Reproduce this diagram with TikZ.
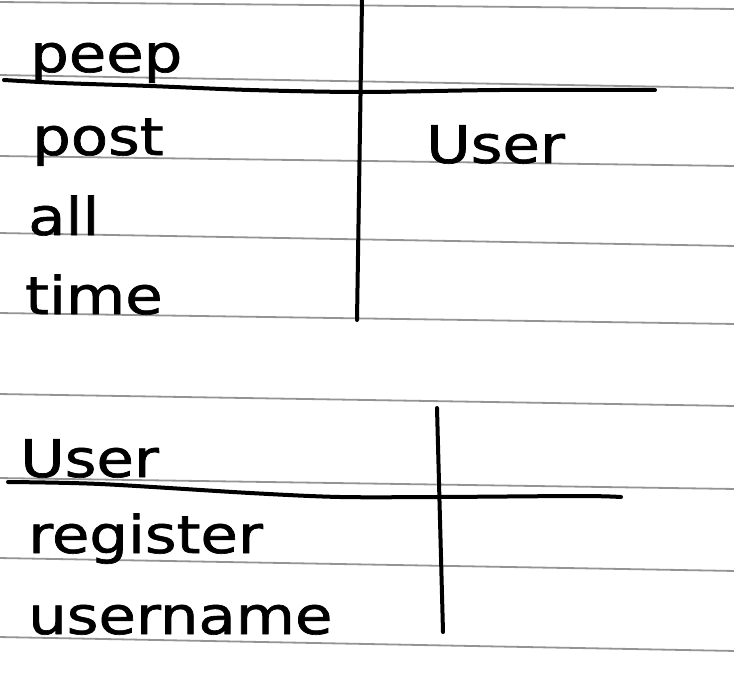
\documentclass[tikz,border=0pt]{standalone}
\usepackage{fontspec}
\setmainfont[FakeBold=1.2]{DejaVu Sans}
\begin{document}
\begin{tikzpicture}[x=1pt,y=-1pt,
  rule/.style={draw=black!42,line width=1.8pt},
  ink/.style={draw=black,line width=4pt,line cap=round,line join=round},
  word/.style={anchor=base west,inner sep=0pt,xscale=1.17,font=\fontsize{52}{60}\selectfont}]
\useasboundingbox (0,0) rectangle (734,685);
\fill[white] (0,0) rectangle (734,685);
% ruled paper lines
\foreach \yl/\yr in {2/9,75/88,156/166,233/246,313/324,394/406,478/489,558/571,637/651}
  \draw[rule] (-2,\yl) -- (736,\yr);
% card 1
\coordinate (v1t) at (362,0);
\coordinate (v1b) at (357,320);
\draw[ink] (v1t) -- (v1b);
\draw[ink] plot[smooth] coordinates {(4,80) (60,83) (150,86) (250,90) (362,92) (500,90) (655,90)};
\node[word] (peep) at (30,72) {peep};
\node[word] (post) at (32,155) {post};
\node[word] (all) at (28,235) {all};
\node[word] (time) at (25,314) {time};
\node[word] (collab) at (426,163) {User};
% card 2
\coordinate (v2t) at (437,408);
\coordinate (v2b) at (443,632);
\draw[ink] (v2t) -- (v2b);
\draw[ink] plot[smooth] coordinates {(8,482) (100,484) (250,493) (340,497) (440,497) (580,496) (621,497)};
\node[word] (user) at (20,477) {User};
\node[word] (register) at (28,553) {register};
\node[word] (username) at (28,634) {username};
\end{tikzpicture}
\end{document}
